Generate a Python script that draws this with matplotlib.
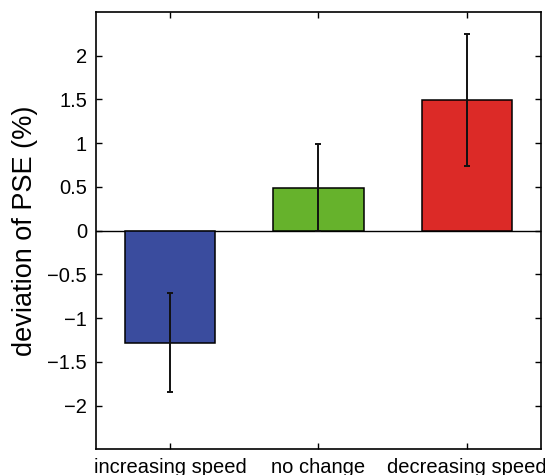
import numpy as np
import matplotlib
matplotlib.use("Agg")
import matplotlib.pyplot as plt

conditions = ["increasing speed", "no change", "decreasing speed"]
deviation = [-1.28, 0.49, 1.49]
err = [0.57, 0.50, 0.755]
colors = ["#3a4c9e", "#66b22c", "#dc2a27"]

plt.rcParams['font.family'] = ['Liberation Sans', 'DejaVu Sans']

fig = plt.figure(figsize=(5.45, 4.75), dpi=100)
ax = fig.add_axes([0.1761, 0.0541, 0.8165, 0.921])

x = np.arange(1, len(conditions) + 1)
ax.bar(x, deviation, width=0.61, color=colors, edgecolor="black", linewidth=1.1, zorder=2)
ax.errorbar(x, deviation, yerr=err, fmt="none", ecolor="#111111", elinewidth=1.4,
            capsize=2.5, capthick=1.4, zorder=3)
ax.axhline(0, color="black", linewidth=1.0, zorder=1)

ax.set_xlim(0.5, 3.5)
ax.set_ylim(-2.5, 2.5)
ax.set_yticks([-2, -1.5, -1, -0.5, 0, 0.5, 1, 1.5, 2])
ax.set_yticklabels(["\u22122", "\u22121.5", "\u22121", "\u22120.5", "0", "0.5", "1", "1.5", "2"])
ax.set_xticks(x)
ax.set_xticklabels(conditions)
ax.tick_params(direction="in", top=True, right=True, labelsize=14.5, length=4, width=1, pad=6.5)
for s in ax.spines.values():
    s.set_linewidth(1.2)
ax.set_ylabel("deviation of PSE (%)", fontsize=19.5)
ax.yaxis.set_label_coords(-0.13, 0.5)

fig.savefig("out.png", dpi=100)
